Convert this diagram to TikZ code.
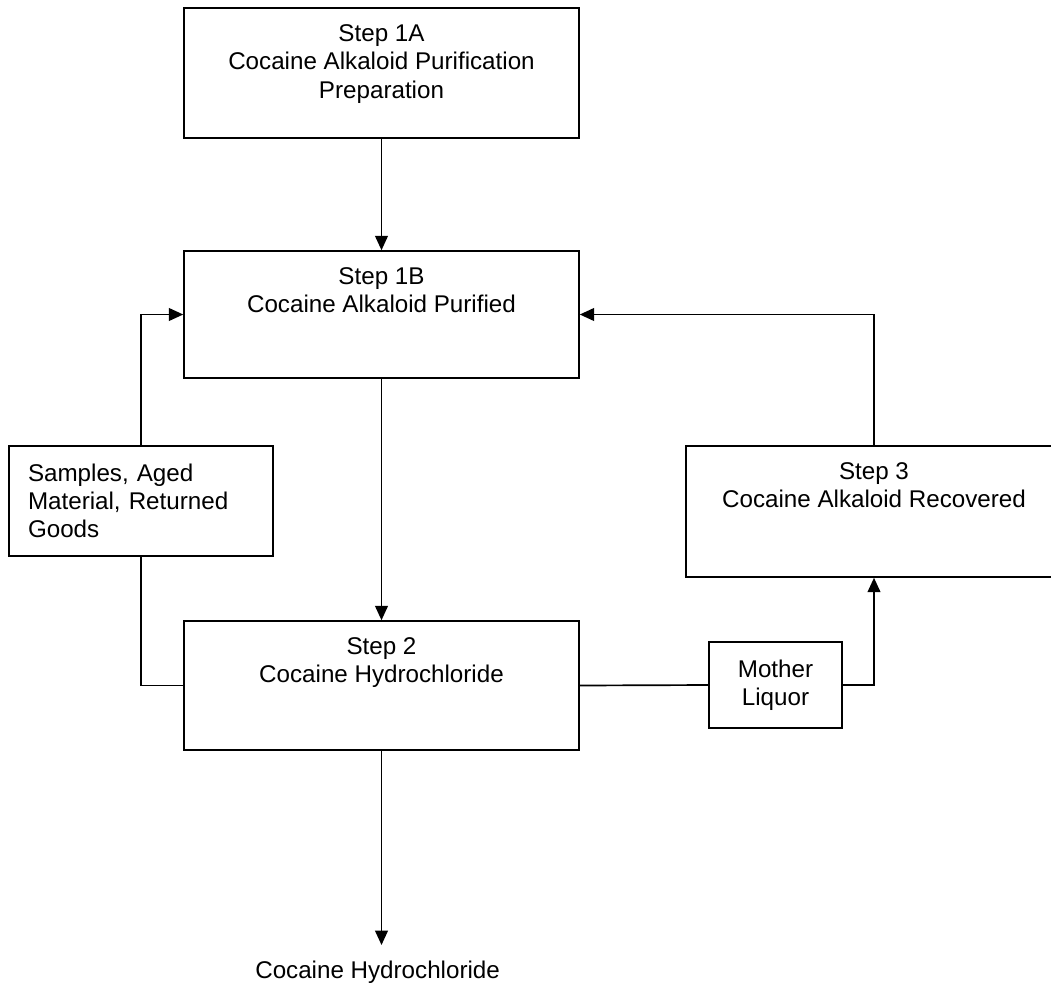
\documentclass[tikz,border=0pt]{standalone}
\usepackage{fontspec}
\setmainfont{Liberation Sans}
\usetikzlibrary{arrows.meta}

\begin{document}
\begin{tikzpicture}[box/.style={draw,line width=1.1pt,inner sep=0pt}, txt/.style={anchor=north,align=center,inner sep=0pt,yshift=-0.42cm,font=\fontsize{17.2}{20.3}\selectfont}, arr/.style={draw,line width=1.2pt,-{Triangle[width=0.32cm,length=0.36cm]}}, ln/.style={draw,line width=1.2pt}]
    \useasboundingbox (0,0) rectangle (26.275,-24.625);

    \node[box,minimum width=9.875cm,minimum height=3.25cm] (stepia) at (9.5375,-1.825) {};
    \node[box,minimum width=9.875cm,minimum height=3.175cm] (stepib) at (9.5375,-7.8625) {};
    \node[box,minimum width=9.875cm,minimum height=3.225cm] (stepii) at (9.5375,-17.1375) {};
    \node[box,minimum width=9.4cm,minimum height=3.275cm] (stepiii) at (21.85,-12.7875) {};
    \node[box,minimum width=6.6cm,minimum height=2.75cm,inner xsep=0.475cm,text width=5.65cm,align=left,font=\fontsize{17.2}{20.1}\selectfont] (samples) at (3.525,-12.525) {Samples, Aged\\Material, Returned\\Goods};
    \node[box,minimum width=3.325cm,minimum height=2.15cm,align=center,font=\fontsize{17.2}{20.1}\selectfont] (mother) at (19.3875,-17.125) {Mother\\Liquor};

    \node[txt] (tia) at (stepia.north) {Step 1A\\Cocaine Alkaloid Purification\\Preparation};
    \node[txt] (tib) at (stepib.north) {Step 1B\\Cocaine Alkaloid Purified};
    \node[txt] (tii) at (stepii.north) {Step 2\\Cocaine Hydrochloride};
    \node[txt] (tiii) at (stepiii.north) {Step 3\\Cocaine Alkaloid Recovered};
    \node[anchor=base,inner sep=0.38cm,font=\fontsize{17.2}{20.3}\selectfont] (hcl) at (9.44,-24.45) {Cocaine Hydrochloride};

    \draw[arr] (stepia) -- (stepib);
    \draw[arr] (stepib) -- (stepii);
    \draw[arr] (stepii.south) -- (stepii.south |- hcl.north);
    \draw[arr] (samples.north) |- (stepib.west);
    \draw[ln] (samples.south) |- (stepii.west);
    \draw[ln] (stepii.east) -- (mother.west);
    \draw[arr] (mother.east) -| (stepiii.south);
    \draw[arr] (stepiii.north) |- (stepib.east);
  \end{tikzpicture}
\end{document}
